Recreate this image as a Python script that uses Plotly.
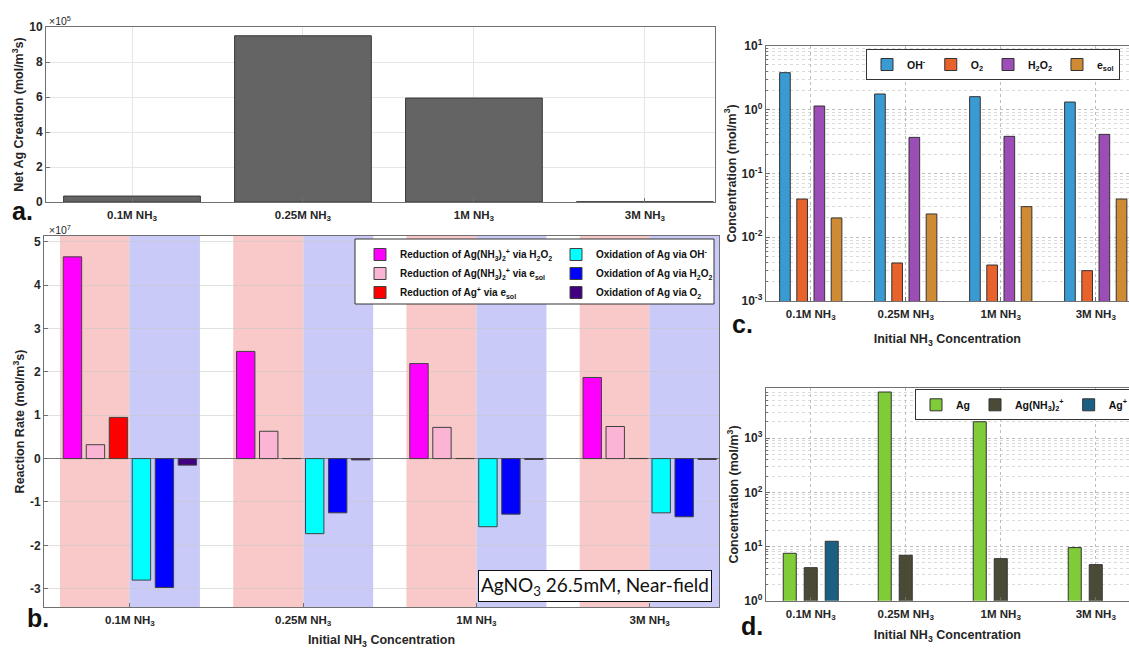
import plotly.graph_objects as go

W, H = 1129, 649

# ---------------- data ----------------
categories = ["0.1M NH<sub>3</sub>", "0.25M NH<sub>3</sub>", "1M NH<sub>3</sub>", "3M NH<sub>3</sub>"]

# panel a: net Ag creation (mol/m^3 s)
net_ag = [3.4e4, 9.5e5, 5.94e5, 1.5e3]
a_ticks = [0, 2e5, 4e5, 6e5, 8e5, 10e5]
a_ticktext = ["0", "2", "4", "6", "8", "10"]

# panel b: reaction rates (mol/m^3 s)
rate_names = [
    "Reduction of Ag(NH<sub>3</sub>)<sub>2</sub><sup>+</sup> via H<sub>2</sub>O<sub>2</sub>",
    "Reduction of Ag(NH<sub>3</sub>)<sub>2</sub><sup>+</sup> via e<sub>sol</sub>",
    "Reduction of Ag<sup>+</sup> via e<sub>sol</sub>",
    "Oxidation of Ag via OH<sup>-</sup>",
    "Oxidation of Ag via H<sub>2</sub>O<sub>2</sub>",
    "Oxidation of Ag via O<sub>2</sub>",
]
red_agnh3_h2o2 = [4.65e7, 2.47e7, 2.19e7, 1.87e7]
red_agnh3_esol = [0.32e7, 0.63e7, 0.72e7, 0.74e7]
red_agp_esol = [0.95e7, 0.003e7, 0.003e7, 0.003e7]
ox_ag_oh = [-2.80e7, -1.73e7, -1.57e7, -1.25e7]
ox_ag_h2o2 = [-2.97e7, -1.25e7, -1.28e7, -1.34e7]
ox_ag_o2 = [-0.15e7, -0.03e7, -0.02e7, -0.02e7]
b_ticks = [-3e7, -2e7, -1e7, 0, 1e7, 2e7, 3e7, 4e7, 5e7]
b_ticktext = ["-3", "-2", "-1", "0", "1", "2", "3", "4", "5"]

# panel c: species concentrations (mol/m^3)
c_names = ["OH<sup>-</sup>", "O<sub>2</sub>", "H<sub>2</sub>O<sub>2</sub>", "e<sub>sol</sub>"]
conc_oh = [3.78, 1.75, 1.59, 1.31]
conc_o2 = [0.0396, 0.00394, 0.00366, 0.00299]
conc_h2o2 = [1.135, 0.366, 0.380, 0.408]
conc_esol = [0.0200, 0.0231, 0.0301, 0.0396]
c_ticks = [1e-3, 1e-2, 1e-1, 1e0, 1e1]
c_ticktext = ["10<sup>-3</sup>", "10<sup>-2</sup>", "10<sup>-1</sup>", "10<sup>0</sup>", "10<sup>1</sup>"]

# panel d: silver species concentrations (mol/m^3)
d_names = ["Ag", "Ag(NH<sub>3</sub>)<sub>2</sub><sup>+</sup>", "Ag<sup>+</sup>"]
conc_ag = [7.5, 7100, 2008, 9.55]
conc_agnh3 = [4.07, 6.89, 5.97, 4.63]
conc_agp = [12.5, None, None, None]
d_ticks = [1e0, 1e1, 1e2, 1e3]
d_ticktext = ["10<sup>0</sup>", "10<sup>1</sup>", "10<sup>2</sup>", "10<sup>3</sup>"]

# ---------------- styles ----------------
FONT = "Liberation Sans"
TXT = "#262626"
AX = "#707070"
b_colors = ["#FF00FF", "#FBB4D4", "#FF0000", "#00FFFF", "#0000FF", "#40007F"]
c_colors = ["#3A9AD2", "#E8622C", "#9C4DB6", "#CF8A34"]
d_colors = ["#80CC38", "#4B4A36", "#1B6083"]


def layout_offsets(n, group, frac):
    step = group / n
    w = step * frac
    return [-group / 2 + j * step + (step - w) / 2 for j in range(n)], w


fig = go.Figure()

# panel a
off_a, w_a = layout_offsets(1, 0.80, 1.0)
fig.add_trace(go.Bar(x=categories, y=net_ag, xaxis="x", yaxis="y", width=w_a, offset=off_a[0],
                     marker=dict(color="#646464", line=dict(color="#3a3a3a", width=1)),
                     showlegend=False))

# panel b
b_series = [red_agnh3_h2o2, red_agnh3_esol, red_agp_esol, ox_ag_oh, ox_ag_h2o2, ox_ag_o2]
off_b, w_b = layout_offsets(6, 0.796, 0.8)
for j, (name, vals) in enumerate(zip(rate_names, b_series)):
    fig.add_trace(go.Bar(x=categories, y=vals, name=name, xaxis="x2", yaxis="y2",
                         width=w_b, offset=off_b[j],
                         legend="legend" if j < 3 else "legend2",
                         marker=dict(color=b_colors[j], line=dict(color="#404040", width=1))))

# panel c
c_series = [conc_oh, conc_o2, conc_h2o2, conc_esol]
off_c, w_c = layout_offsets(4, 0.724, 0.62)
for j, (name, vals) in enumerate(zip(c_names, c_series)):
    fig.add_trace(go.Bar(x=categories, y=vals, name=name, xaxis="x3", yaxis="y3",
                         width=w_c, offset=off_c[j], legend="legend3",
                         marker=dict(color=c_colors[j], line=dict(color="#333333", width=1))))

# panel d
d_series = [conc_ag, conc_agnh3, conc_agp]
off_d, w_d = layout_offsets(3, 0.663, 0.62)
for j, (name, vals) in enumerate(zip(d_names, d_series)):
    fig.add_trace(go.Bar(x=categories, y=vals, name=name, xaxis="x4", yaxis="y4",
                         width=w_d, offset=off_d[j], legend="legend4",
                         marker=dict(color=d_colors[j], line=dict(color="#333333", width=1))))

tickfont = dict(family=FONT, size=11.5, color=TXT, weight="bold")
ytickfont = dict(family=FONT, size=12, color=TXT, weight="bold")
titlefont = dict(family=FONT, size=12.5, color=TXT, weight="bold")
legfont = dict(family=FONT, size=10.5, color="#111", weight="bold")
legfont_b = dict(family=FONT, size=10, color="#111", weight="bold")


def cat_axis(domain, anchor, rng, grid="#E6E6E6", dash="solid", title=None, standoff=4):
    d = dict(domain=domain, anchor=anchor, type="category", categoryorder="array",
             categoryarray=categories, range=rng, showline=True, linecolor=AX, linewidth=1,
             mirror=True, ticks="inside", ticklen=4, tickcolor=AX, tickfont=tickfont,
             ticklabelstandoff=2,
             showgrid=True, gridcolor=grid, griddash=dash, zeroline=False, fixedrange=True)
    if title:
        d["title"] = dict(text=title, font=titlefont, standoff=standoff)
    return d


minor_c = [k * 10.0 ** e for e in range(-3, 1) for k in range(2, 10)]
minor_d = [k * 10.0 ** e for e in range(0, 4) for k in range(2, 10)]

xtitle = "Initial NH<sub>3</sub> Concentration"

fig.update_layout(
    width=W, height=H, margin=dict(l=0, r=0, t=0, b=0, autoexpand=False),
    paper_bgcolor="white", plot_bgcolor="white", barmode="overlay",
    font=dict(family=FONT, color=TXT),
    xaxis=cat_axis([46 / W, 715 / W], "y", [-0.503, 3.41]),
    yaxis=dict(domain=[1 - 202 / H, 1 - 27 / H], anchor="x", range=[0, 10e5],
               tickvals=a_ticks, ticktext=a_ticktext, showline=True, linecolor=AX, mirror=True,
               ticks="inside", ticklen=4, tickcolor=AX, tickfont=ytickfont, showgrid=True,
               gridcolor="#E6E6E6", zeroline=False,
               title=dict(text="Net Ag Creation (mol/m<sup>3</sup>s)", font=titlefont, standoff=2)),
    xaxis2=cat_axis([44 / W, 719 / W], "y2", [-0.496, 3.40], grid="#D8D8E8", title=xtitle, standoff=11),
    yaxis2=dict(domain=[1 - 607 / H, 1 - 236 / H], anchor="x2", range=[-3.42e7, 5.13e7],
                tickvals=b_ticks, ticktext=b_ticktext, showline=True, linecolor=AX, mirror=True,
                ticks="inside", ticklen=4, tickcolor=AX, tickfont=ytickfont, showgrid=True,
                gridcolor="rgba(200,200,200,0.55)", zeroline=True, zerolinecolor="#7a7a7a",
                zerolinewidth=1,
                title=dict(text="Reaction Rate (mol/m<sup>3</sup>s)", font=titlefont, standoff=2)),
    xaxis3=cat_axis([765.7 / W, 1.0], "y3", [-0.474, 3.35], grid="#BDBDBD", dash="dot",
                    title=xtitle, standoff=13),
    yaxis3=dict(domain=[1 - 301 / H, 1 - 45.7 / H], anchor="x3", type="log", range=[-3, 1],
                tickvals=c_ticks, ticktext=c_ticktext, showline=True, linecolor=AX, mirror=False,
                ticks="inside", ticklen=4, tickcolor=AX, tickfont=ytickfont, showgrid=True,
                gridcolor="#BDBDBD", griddash="dot", zeroline=False,
                minor=dict(tickvals=minor_c, showgrid=True, gridcolor="#DADADA", griddash="dot",
                           ticks="inside", ticklen=2, tickcolor=AX),
                title=dict(text="Concentration (mol/m<sup>3</sup>)", font=titlefont, standoff=2)),
    xaxis4=cat_axis([765.7 / W, 1.0], "y4", [-0.474, 3.35], grid="#BDBDBD", dash="dot",
                    title=xtitle, standoff=9),
    yaxis4=dict(domain=[1 - 600.7 / H, 1 - 388.3 / H], anchor="x4", type="log", range=[0, 3.92],
                tickvals=d_ticks, ticktext=d_ticktext, showline=True, linecolor=AX, mirror=False,
                ticks="inside", ticklen=4, tickcolor=AX, tickfont=ytickfont, showgrid=True,
                gridcolor="#BDBDBD", griddash="dot", zeroline=False,
                minor=dict(tickvals=minor_d, showgrid=True, gridcolor="#DADADA", griddash="dot",
                           ticks="inside", ticklen=2, tickcolor=AX),
                title=dict(text="Concentration (mol/m<sup>3</sup>)", font=titlefont, standoff=2)),
    legend=dict(x=360 / W, y=1 - 240 / H, xanchor="left", yanchor="top", bgcolor="rgba(0,0,0,0)",
                borderwidth=0, font=legfont_b),
    legend2=dict(x=556 / W, y=1 - 240 / H, xanchor="left", yanchor="top", bgcolor="rgba(0,0,0,0)",
                 borderwidth=0, font=legfont_b),
    legend3=dict(x=866 / W, y=1 - 49 / H, xanchor="left", yanchor="top", orientation="h",
                 bgcolor="white", bordercolor="#333", borderwidth=1, font=legfont),
    legend4=dict(x=915 / W, y=1 - 389.3 / H, xanchor="left", yanchor="top", orientation="h",
                 bgcolor="white", bordercolor="#333", borderwidth=1, font=legfont),
)

# background shading in panel b (reduction = red, oxidation = blue), around each category
shapes = []
for i, _ in enumerate(categories):
    shapes.append(dict(type="rect", xref="x2", yref="y2 domain", x0=i - 0.404, x1=i, y0=0, y1=1,
                       fillcolor="#F9C9C9", line=dict(width=0), layer="below"))
    shapes.append(dict(type="rect", xref="x2", yref="y2 domain", x0=i, x1=i + 0.404, y0=0, y1=1,
                       fillcolor="#CACAF8", line=dict(width=0), layer="below"))
# legend frame for panel b
shapes.append(dict(type="rect", xref="paper", yref="paper", x0=355 / W, x1=714 / W,
                   y0=1 - 304 / H, y1=1 - 239 / H, fillcolor="white",
                   line=dict(color="#333", width=1), layer="above"))
fig.update_layout(shapes=shapes)

ann = [
    dict(text="×10<sup>5</sup>", x=47 / W, y=1 - 21 / H, xanchor="left", yanchor="middle",
         font=dict(family=FONT, size=10.5, color=TXT)),
    dict(text="×10<sup>7</sup>", x=47 / W, y=1 - 229 / H, xanchor="left", yanchor="middle",
         font=dict(family=FONT, size=10.5, color=TXT)),
    dict(text="<b>a.</b>", x=22 / W, y=1 - 211 / H, xanchor="center", yanchor="middle",
         font=dict(family=FONT, size=25, color="#111")),
    dict(text="<b>b.</b>", x=38 / W, y=1 - 618 / H, xanchor="center", yanchor="middle",
         font=dict(family=FONT, size=25, color="#111")),
    dict(text="<b>c.</b>", x=742 / W, y=1 - 324 / H, xanchor="center", yanchor="middle",
         font=dict(family=FONT, size=25, color="#111")),
    dict(text="<b>d.</b>", x=752 / W, y=1 - 626 / H, xanchor="center", yanchor="middle",
         font=dict(family=FONT, size=25, color="#111")),
    dict(text="AgNO<sub>3</sub> 26.5mM, Near-field", x=595 / W, y=1 - 586 / H,
         xanchor="center", yanchor="middle", font=dict(family="Lato", size=19, color="#111"),
         bgcolor="white", bordercolor="#111", borderwidth=1, borderpad=2),
]
for a in ann:
    a.update(xref="paper", yref="paper", showarrow=False)
fig.update_layout(annotations=ann)

fig.write_html("out.html")
